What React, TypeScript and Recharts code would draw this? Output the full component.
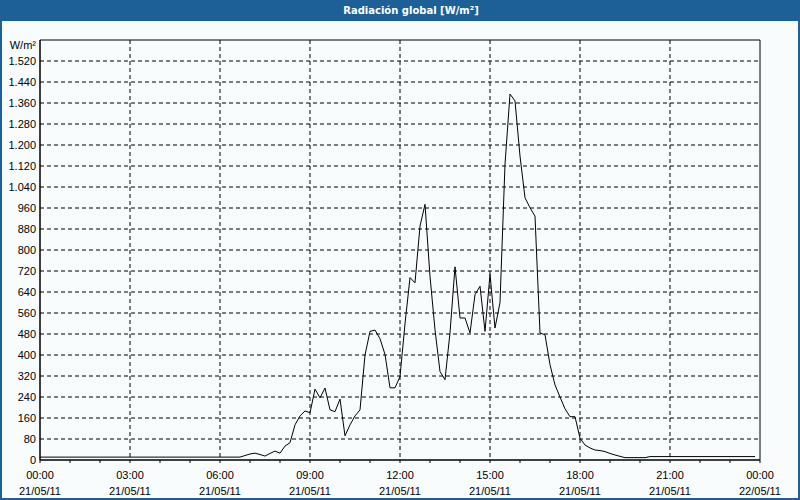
import { LineChart, Line, XAxis, YAxis, CartesianGrid, ReferenceArea } from 'recharts'

// 10-minute readings, 00:00 .. 23:50 on 21/05/11
const radiacion = [
  11, 11, 11, 11, 11, 11, 11, 11, 11, 11, 11, 11,
  11, 11, 11, 11, 11, 11, 11, 11, 11, 11, 11, 11,
  11, 11, 11, 11, 11, 11, 11, 11, 11, 11, 11, 11,
  11, 11, 11, 11, 11, 17, 23, 26, 21, 15, 25, 34,
  26, 53, 66, 134, 168, 187, 180, 270, 237, 274, 191, 184,
  232, 92, 134, 168, 191, 400, 490, 495, 462, 402, 275, 275,
  318, 519, 695, 675, 891, 974, 700, 496, 337, 306, 485, 736,
  541, 541, 484, 630, 662, 490, 707, 503, 600, 1127, 1394, 1368,
  1158, 999, 961, 929, 484, 477, 363, 286, 240, 195, 165, 165,
  83, 57, 46, 38, 36, 32, 25, 19, 14, 9, 9, 9,
  9, 9, 13, 13, 13, 13, 13, 13, 13, 13, 13, 13,
  13, 13, 13, 13, 13, 13, 13, 13, 13, 13, 13, 13,
]

const horasTicks = [0, 60, 120, 180, 240, 300, 360, 420, 480, 540, 600, 660, 720, 780, 840, 900, 960, 1020, 1080, 1140, 1200, 1260, 1320, 1380, 1440]
const horasEtiquetas = [0, 180, 360, 540, 720, 900, 1080, 1260, 1440]
const horasGrid = [180, 360, 540, 720, 900, 1080, 1260]
const valoresTicks = [0, 80, 160, 240, 320, 400, 480, 560, 640, 720, 800, 880, 960, 1040, 1120, 1200, 1280, 1360, 1440, 1520, 1600]
const valoresGrid = [80, 160, 240, 320, 400, 480, 560, 640, 720, 800, 880, 960, 1040, 1120, 1200, 1280, 1360, 1440, 1520]

const datos = radiacion.map((v, i) => ({ min: i * 10, valor: v }))

const AZUL = '#1d5f97'
const FUENTE = '"Liberation Sans", Arial, sans-serif'

const miles = (v: number) => {
  const s = String(v)
  return s.length > 3 ? s.slice(0, -3) + '.' + s.slice(-3) : s
}

const hora = (m: number) => {
  const h = Math.floor(m / 60) % 24
  return `${String(h).padStart(2, '0')}:00`
}

function TickX(props: any) {
  const { x, y, payload } = props
  if (!horasEtiquetas.includes(payload.value)) return null
  const fecha = payload.value >= 1440 ? '22/05/11' : '21/05/11'
  return (
    <g>
      <text x={x} y={y + 14} textAnchor="middle" fontSize={11} fontFamily={FUENTE} fill="#000">{hora(payload.value)}</text>
      <text x={x} y={y + 30} textAnchor="middle" fontSize={11} fontFamily={FUENTE} fill="#000">{fecha}</text>
    </g>
  )
}

function TickY(props: any) {
  const { x, y, payload } = props
  const texto = payload.value === 1600 ? 'W/m²' : miles(payload.value)
  const dy = payload.value === 1600 ? 9 : 4
  return (
    <text x={x} y={y + dy} textAnchor="end" fontSize={11} fontFamily={FUENTE} fill="#000">{texto}</text>
  )
}

export default function App() {
  return (
    <div
      style={{
        position: 'absolute', left: 0, top: 0, width: 800, height: 500,
        boxSizing: 'border-box', border: `2px solid ${AZUL}`, borderTop: 'none',
        background: '#f9fcfc', overflow: 'hidden',
      }}
    >
      <div
        style={{
          position: 'absolute', left: -2, top: 0, width: 800, height: 21,
          boxSizing: 'border-box', paddingLeft: 22,
          background: AZUL, color: '#fff', fontFamily: '"DejaVu Sans", Verdana, sans-serif',
          fontWeight: 'bold', fontSize: 10, lineHeight: '21px', textAlign: 'center',
        }}
      >
        Radiación global [W/m²]
      </div>
      <div style={{ position: 'absolute', left: -2, top: 0 }}>
        <LineChart width={800} height={500} data={datos} margin={{ top: 40, right: 40, bottom: 0, left: 0 }}>
          <CartesianGrid
            stroke="#000"
            strokeDasharray="4 3"
            horizontalValues={valoresGrid}
            verticalValues={horasGrid}
          />
          <XAxis
            dataKey="min"
            type="number"
            domain={[0, 1440]}
            ticks={horasTicks}
            interval={0}
            height={40}
            axisLine={{ stroke: '#000' }}
            tickLine={{ stroke: '#000' }}
            tickSize={3}
            tick={<TickX />}
          />
          <YAxis
            type="number"
            domain={[0, 1600]}
            ticks={valoresTicks}
            interval={0}
            width={40}
            axisLine={{ stroke: '#000' }}
            tickLine={false}
            tickSize={0}
            tickMargin={4}
            tick={<TickY />}
          />
          <ReferenceArea x1={0} x2={1440} y1={0} y2={1600} fill="none" stroke="#000" strokeWidth={1} />
          <Line
            type="linear"
            dataKey="valor"
            stroke="#000"
            strokeWidth={1}
            dot={false}
            isAnimationActive={false}
          />
        </LineChart>
      </div>
    </div>
  )
}
